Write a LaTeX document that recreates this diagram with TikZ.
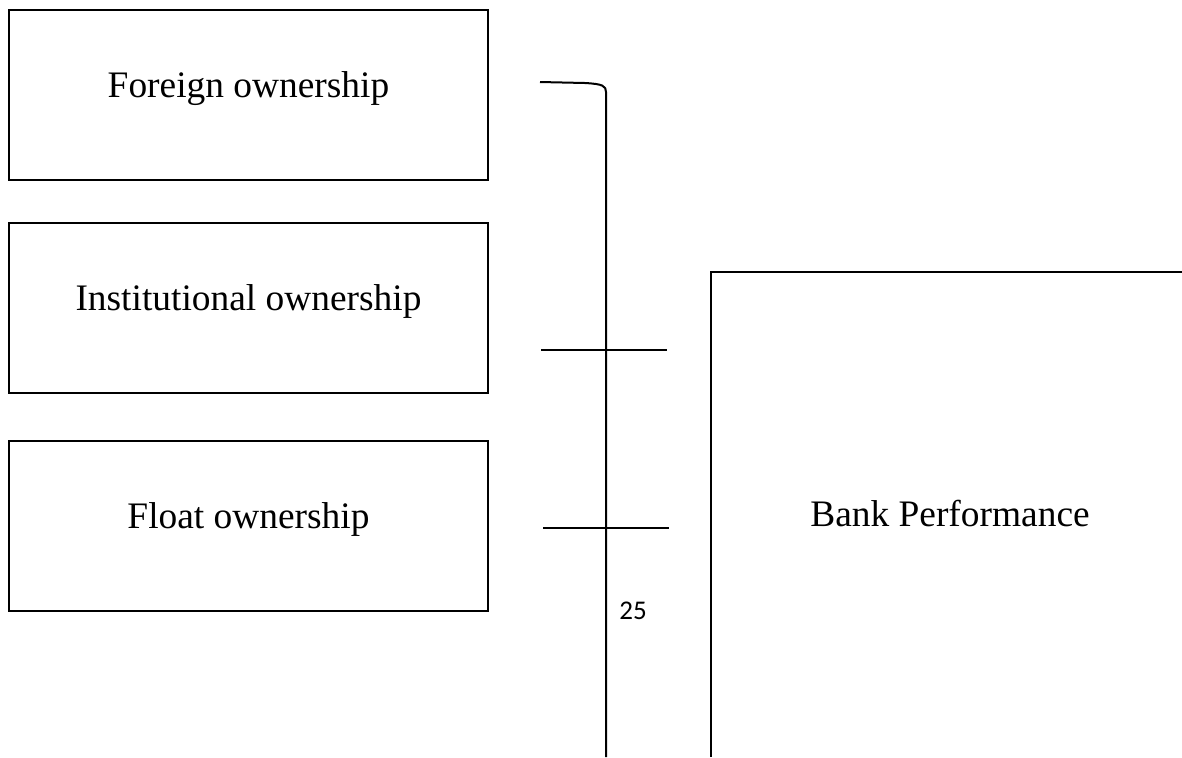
\documentclass[tikz,border=0pt]{standalone}
\usepackage{fontspec}
\setmainfont{Liberation Serif}
\newfontfamily\numfont{Carlito}
\usetikzlibrary{calc}
\tikzset{
	ownbox/.style={draw, line width=1pt, rectangle, minimum width=239.5pt, minimum height=85pt, inner sep=0pt, text height=12pt, text depth=10pt, font=\fontsize{18.7}{22}\selectfont},
	wire/.style={line width=1pt, color=black},
}

\begin{document}
\begin{tikzpicture}[x=0.5pt, y=-0.5pt]
		%%%%% START %%%%%
		\useasboundingbox (0, 0) rectangle (1182, 757);
		
		\node[ownbox] (foreign) at (248.5, 95) {Foreign ownership};
		\node[ownbox] (institutional) at (248.5, 308) {Institutional ownership};
		\node[ownbox] (float) at (248.5, 526) {Float ownership};
		
		\coordinate (bracetop) at (540, 82);
		\coordinate (bracebot) at (606, 757);
		\draw[wire] (bracetop) -- (585, 83) .. controls (603, 84) and (606, 86) .. (606, 92) -- (bracebot);
		
		\draw[wire] (541, 350) -- (667, 350);
		\draw[wire] (543, 528) -- (669, 528);
		
		\node[anchor=base west, inner sep=0pt, font=\numfont\fontsize{13.5}{16}\selectfont] (page) at (619, 619) {25};
		
		\draw[wire] (711, 757) -- (711, 272) -- (1182, 272);
		\node[anchor=base, inner sep=0pt, font=\fontsize{18.7}{22}\selectfont] (bank) at (950, 526) {Bank Performance};
		
		%%%%% END %%%%%
	\end{tikzpicture}
\end{document}
